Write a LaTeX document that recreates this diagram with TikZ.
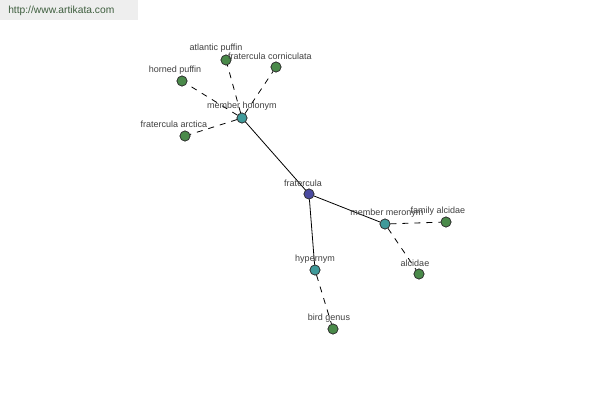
\documentclass[tikz,border=0pt]{standalone}
\usepackage{fontspec}
\setmainfont{Liberation Sans}
\begin{document}
\begin{tikzpicture}[x=0.75pt,y=-0.75pt,
  lbl/.style={font=\fontsize{6.75pt}{7pt}\selectfont, text=black!75, inner sep=0pt},
  dot/.style={circle, draw=black!80, line width=0.5pt, minimum size=7.5pt, inner sep=0pt},
  hubdot/.style={dot, fill=hubc},
  leafdot/.style={dot, fill=leafc},
  rootdot/.style={dot, fill=rootc},
  solidedge/.style={draw=black, line width=0.6pt},
  dashedge/.style={draw=black, line width=0.6pt, dash pattern=on 4.5pt off 4.5pt}]
\definecolor{hubc}{HTML}{3F9A9A}
\definecolor{leafc}{HTML}{4A8A4A}
\definecolor{rootc}{HTML}{4A4AA0}
\definecolor{hdrc}{HTML}{EEEEEE}
\definecolor{hdrt}{HTML}{3E5E3E}
\useasboundingbox (0,0) rectangle (600,400);
\fill[white] (0,0) rectangle (600,400);
\fill[hdrc] (0,0) rectangle (138,20);
\node[font=\fontsize{7.7pt}{8pt}\selectfont, text=hdrt, anchor=west, inner sep=0pt] (hdr) at (8,10.5) {http://www.artikata.com};
% nodes
\node[rootdot] (frat) at (309,194) {};
\node[hubdot] (hol) at (242,118) {};
\node[hubdot] (mer) at (385,224) {};
\node[hubdot] (hyp) at (315,270) {};
\node[leafdot] (atl) at (226,60) {};
\node[leafdot] (corn) at (276,67) {};
\node[leafdot] (horn) at (182,81) {};
\node[leafdot] (arct) at (185,136) {};
\node[leafdot] (fam) at (446,222) {};
\node[leafdot] (alc) at (419,274) {};
\node[leafdot] (bird) at (333,329) {};
% edges
\begin{scope}[on background layer/.style={}]
\draw[solidedge] (frat) -- (hol);
\draw[solidedge] (frat) -- (mer);
\draw[solidedge] (frat) -- (hyp);
\draw[dashedge] (hol) -- (atl);
\draw[dashedge] (hol) -- (corn);
\draw[dashedge] (hol) -- (horn);
\draw[dashedge] (hol) -- (arct);
\draw[dashedge] (mer) -- (fam);
\draw[dashedge] (mer) -- (alc);
\draw[dashedge] (hyp) -- (bird);
\end{scope}
% redraw nodes on top
\node[rootdot] at (frat) {};
\node[hubdot] at (hol) {};
\node[hubdot] at (mer) {};
\node[hubdot] at (hyp) {};
\node[leafdot] at (atl) {};
\node[leafdot] at (corn) {};
\node[leafdot] at (horn) {};
\node[leafdot] at (arct) {};
\node[leafdot] at (fam) {};
\node[leafdot] at (alc) {};
\node[leafdot] at (bird) {};
% labels
\node[lbl] (latl) at (216,48) {atlantic puffin};
\node[lbl] (lcorn) at (270,56) {fratercula corniculata};
\node[lbl] (lhorn) at (175,70) {horned puffin};
\node[lbl] (lhol) at (242,106) {member holonym};
\node[lbl] (larct) at (174,124) {fratercula arctica};
\node[lbl] (lfrat) at (303,183) {fratercula};
\node[lbl] (lmer) at (387,213) {member meronym};
\node[lbl] (lfam) at (438,211) {family alcidae};
\node[lbl] (lalc) at (415,263) {alcidae};
\node[lbl] (lhyp) at (315,259) {hypernym};
\node[lbl] (lbird) at (329,318) {bird genus};
\end{tikzpicture}
\end{document}
